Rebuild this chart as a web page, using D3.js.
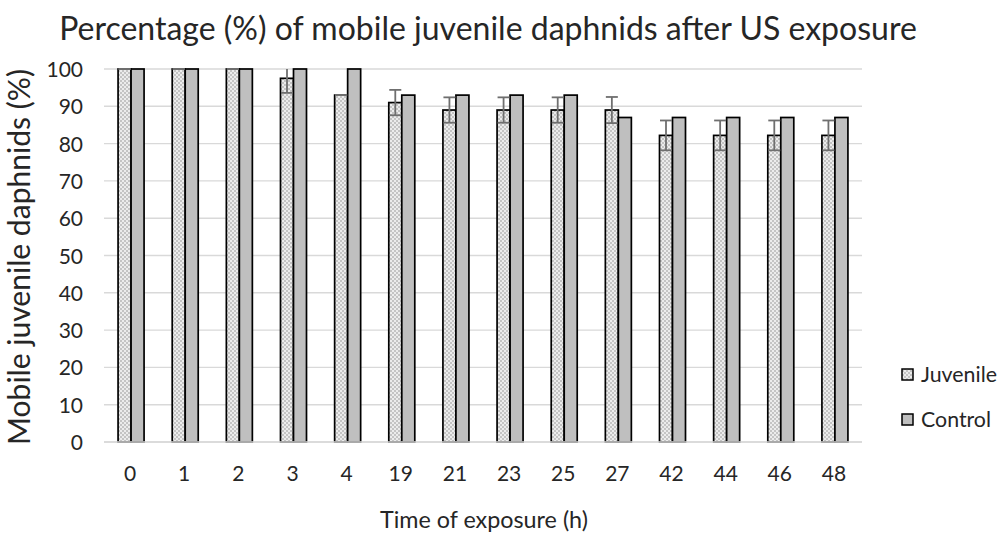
<!DOCTYPE html>
<html><head><meta charset="utf-8">
<script src="https://cdn.jsdelivr.net/npm/d3@7/dist/d3.min.js"></script>
<style>body{margin:0;background:#fff}svg{display:block}text{font-family:Lato,"Open Sans",sans-serif;fill:#262626}</style>
</head><body><svg id="c" width="1000" height="536"></svg>
<script>
const categories = ["0","1","2","3","4","19","21","23","25","27","42","44","46","48"];
const juvenile = [100,100,100,97.5,93,91,89,89,89,89,82.2,82.2,82.2,82.2];
const juvenileErr = [0,0,0,3.9,0,3.4,3.4,3.4,3.4,3.5,4,4,4,4];
const control = [100,100,100,100,100,93,93,93,93,87,87,87,87,87];
const yTicks = [0,10,20,30,40,50,60,70,80,90,100];
const seriesNames = ["Juvenile","Control"];

const svg = d3.select("#c");
const defs = svg.append("defs");
const pat = defs.append("pattern").attr("id","checker").attr("patternUnits","userSpaceOnUse").attr("width",4).attr("height",4);
pat.append("rect").attr("width",4).attr("height",4).attr("fill","#ececec");
pat.append("rect").attr("width",2).attr("height",2).attr("fill","#c4c4c4");
pat.append("rect").attr("x",2).attr("y",2).attr("width",2).attr("height",2).attr("fill","#c4c4c4");

const x = d3.scaleBand().domain(categories).range([104,862]).padding(0);
const y = d3.scaleLinear().domain([0,100]).range([442,69]);
const barW = 13;

// gridlines
svg.append("g").selectAll("line").data(yTicks).join("line")
  .attr("x1",104).attr("x2",862).attr("y1",d=>y(d)).attr("y2",d=>y(d))
  .attr("stroke","#d9d9d9").attr("stroke-width",1.4);

// y axis labels
const yAxis = svg.append("g").attr("transform","translate(83,0)")
  .call(d3.axisLeft(y).tickValues(yTicks).tickSize(0).tickPadding(0));
yAxis.select(".domain").remove();
yAxis.selectAll("text").attr("font-size",21).attr("font-family","Lato,sans-serif").attr("fill","#262626").attr("dy","0.36em");

// x axis labels
const xAxis = svg.append("g").attr("transform","translate(-1,466)")
  .call(d3.axisBottom(x).tickSize(0).tickPadding(0));
xAxis.select(".domain").remove();
xAxis.selectAll("text").attr("font-size",21).attr("font-family","Lato,sans-serif").attr("fill","#262626");

// bars
const g = svg.append("g");
g.selectAll(".jb").data(categories).join("rect").attr("class","jb")
  .attr("x",d=>x(d)+x.bandwidth()/2-barW).attr("width",barW)
  .attr("y",(d,i)=>y(juvenile[i])).attr("height",(d,i)=>y(0)-y(juvenile[i]))
  .attr("fill","url(#checker)").attr("stroke","#000").attr("stroke-width",1.7);
g.selectAll(".cb").data(categories).join("rect").attr("class","cb")
  .attr("x",d=>x(d)+x.bandwidth()/2).attr("width",barW)
  .attr("y",(d,i)=>y(control[i])).attr("height",(d,i)=>y(0)-y(control[i]))
  .attr("fill","#bfbfbf").attr("stroke","#000").attr("stroke-width",1.7);

// x axis line
svg.append("line").attr("x1",104).attr("x2",862).attr("y1",y(0)).attr("y2",y(0)).attr("stroke","#d9d9d9").attr("stroke-width",1.4);

// error bars
const eg = svg.append("g").attr("stroke","#6f6f6f").attr("stroke-width",1.8);
categories.forEach((c,i)=>{
  const cx = x(c)+x.bandwidth()/2-barW/2;
  const hi = Math.min(100, juvenile[i]+juvenileErr[i]);
  const lo = juvenile[i]-juvenileErr[i];
  eg.append("line").attr("x1",cx).attr("x2",cx).attr("y1",y(hi)).attr("y2",y(lo));
  if (juvenile[i]+juvenileErr[i] <= 100) {
    eg.append("line").attr("x1",cx-6).attr("x2",cx+6).attr("y1",y(hi)).attr("y2",y(hi));
  }
  eg.append("line").attr("x1",cx-6).attr("x2",cx+6).attr("y1",y(lo)).attr("y2",y(lo));
});

// fit text helper
function fit(sel, target, size){
  sel.attr("font-size",size);
  const w = sel.node().getComputedTextLength();
  sel.attr("font-size", size*target/w);
}

// title
fit(svg.append("text").attr("x",488).attr("y",40).attr("text-anchor","middle")
  .text("Percentage (%) of mobile juvenile daphnids after US exposure"), 858, 24);

// y title
fit(svg.append("text").attr("transform","translate(30,257) rotate(-90)").attr("text-anchor","middle")
  .text("Mobile juvenile daphnids (%)"), 376, 22);

// x title
fit(svg.append("text").attr("x",484).attr("y",528).attr("text-anchor","middle")
  .text("Time of exposure (h)"), 208, 22);

// legend
const lg = svg.append("g");
const lfills = ["url(#checker)","#bfbfbf"];
seriesNames.forEach((n,i)=>{
  const yy = 375 + i*45;
  lg.append("rect").attr("x",902).attr("y",yy-6).attr("width",11).attr("height",11)
    .attr("fill",lfills[i]).attr("stroke","#000").attr("stroke-width",1.5);
  fit(lg.append("text").attr("x",921).attr("y",yy+7).text(n), i===0?76:70, 19);
});
</script></body></html>
